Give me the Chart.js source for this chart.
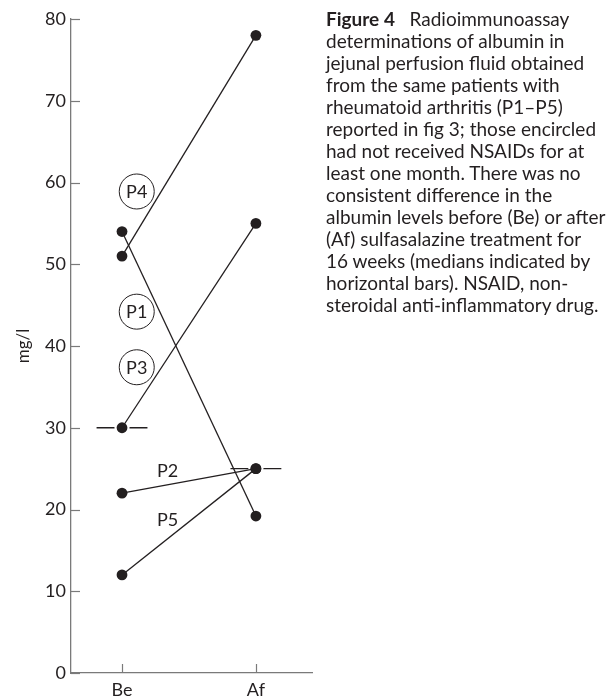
<!DOCTYPE html>
<html>
<head>
<meta charset="utf-8">
<script src="https://cdn.jsdelivr.net/npm/chart.js@4"></script>
<style>
  html, body { margin: 0; padding: 0; background: #fff; }
  #wrap { position: relative; width: 616px; height: 699px; }
  #chart1 { position: absolute; left: 0; top: 0; }
  #caption {
    position: absolute; left: 326px; top: 8px; width: 290px;
    font-family: Lato, sans-serif; font-size: 19px; line-height: 22px;
    color: #231f20; white-space: pre;
  }
  #caption b { font-weight: 700; }
</style>
</head>
<body>
<div id="wrap">
  <canvas id="chart1" width="616" height="699"></canvas>
  <div id="caption"><b>Figure 4</b>   Radioimmunoassay
determinations of albumin in
jejunal perfusion fluid obtained
from the same patients with
rheumatoid arthritis (P1–P5)
reported in fig 3; those encircled
had not received NSAIDs for at
least one month. There was no
consistent difference in the
albumin levels before (Be) or after
(Af) sulfasalazine treatment for
16 weeks (medians indicated by
horizontal bars). NSAID, non-
steroidal anti-inflammatory drug.</div>
</div>
<script>
const groups = ['Be', 'Af'];
const patients = ['P1', 'P2', 'P3', 'P4', 'P5'];
const before = [54, 22, 30, 51, 12];
const after = [19.2, 25, 55, 78, 25];
const medians = [30, 25];
const yTicks = [0, 10, 20, 30, 40, 50, 60, 70, 80];
// where the patient tags sit (x in group units, y in mg/l) and whether circled
const tagX = [0.11, 0.34, 0.11, 0.11, 0.34];
const tagY = [44.2, 24.8, 37.4, 58.9, 18.8];
const circled = [true, false, true, true, false];

const ink = '#231f20';
const axisGrey = '#7a7a7a';
const font = 'Lato, sans-serif';

const datasets = [];
patients.forEach((p, i) => {
  datasets.push({
    label: p,
    data: [{x: 0, y: before[i]}, {x: 1, y: after[i]}],
    showLine: true,
    borderColor: ink,
    borderWidth: 1.3,
    pointRadius: 5.4,
    pointBackgroundColor: ink,
    pointBorderWidth: 0
  });
});
// median bars sit underneath; the white middle point leaves a small gap round the dot
medians.forEach((m, i) => {
  datasets.push({
    label: 'median ' + groups[i],
    data: [{x: i - 0.19, y: m}, {x: i, y: m}, {x: i + 0.19, y: m}],
    showLine: true,
    borderColor: ink,
    borderWidth: 1.3,
    pointRadius: [0, 7.6, 0],
    pointBackgroundColor: '#fff',
    pointBorderWidth: 0
  });
});

const extras = {
  id: 'extras',
  afterDatasetsDraw(chart) {
    const {ctx, scales: {x, y}} = chart;
    ctx.save();
    // inward tick marks
    ctx.strokeStyle = axisGrey;
    ctx.lineWidth = 1.2;
    yTicks.forEach(v => {
      const py = Math.round(y.getPixelForValue(v)) + 0.5;
      ctx.beginPath();
      ctx.moveTo(x.left, py);
      ctx.lineTo(x.left + 9, py);
      ctx.stroke();
    });
    groups.forEach((g, i) => {
      const px = Math.round(x.getPixelForValue(i)) + 0.5;
      ctx.beginPath();
      ctx.moveTo(px, y.bottom);
      ctx.lineTo(px, y.bottom - 9);
      ctx.stroke();
    });
    // patient tags
    ctx.fillStyle = ink;
    ctx.strokeStyle = ink;
    ctx.lineWidth = 1;
    ctx.font = '18px ' + font;
    ctx.textAlign = 'center';
    ctx.textBaseline = 'middle';
    patients.forEach((p, i) => {
      const px = x.getPixelForValue(tagX[i]);
      const py = y.getPixelForValue(tagY[i]);
      if (circled[i]) {
        ctx.beginPath();
        ctx.arc(px, py, 17.5, 0, Math.PI * 2);
        ctx.fillStyle = '#fff';
        ctx.fill();
        ctx.stroke();
        ctx.fillStyle = ink;
      }
      ctx.fillText(p, px, py + 1);
    });
    ctx.restore();
  }
};

new Chart(document.getElementById('chart1'), {
  type: 'scatter',
  data: { datasets: datasets },
  options: {
    responsive: false,
    animation: false,
    layout: { padding: { top: 19, right: 304, left: 0, bottom: 0 } },
    plugins: {
      legend: { display: false },
      tooltip: { enabled: false }
    },
    scales: {
      x: {
        type: 'linear',
        min: -0.381,
        max: 1.419,
        afterBuildTicks: s => { s.ticks = groups.map((g, i) => ({value: i})); },
        afterFit: s => { s.height = 26; },
        grid: { display: false, drawTicks: false, tickLength: 0 },
        border: { display: true, color: axisGrey, width: 1.3 },
        ticks: {
          callback: v => groups[v],
          color: ink,
          padding: 6,
          font: { family: font, size: 18 }
        }
      },
      y: {
        min: 0,
        max: 80,
        afterBuildTicks: s => { s.ticks = yTicks.map(v => ({value: v})); },
        afterFit: s => { s.width = 71; },
        grid: { display: false, drawTicks: false, tickLength: 0 },
        border: { display: true, color: axisGrey, width: 1.3 },
        title: {
          display: true,
          text: 'mg/l',
          color: ink,
          padding: { top: 13, bottom: 0 },
          font: { family: font, size: 17 }
        },
        ticks: {
          color: ink,
          padding: 5,
          font: { family: font, size: 18 }
        }
      }
    }
  },
  plugins: [extras]
});
</script>
</body>
</html>
